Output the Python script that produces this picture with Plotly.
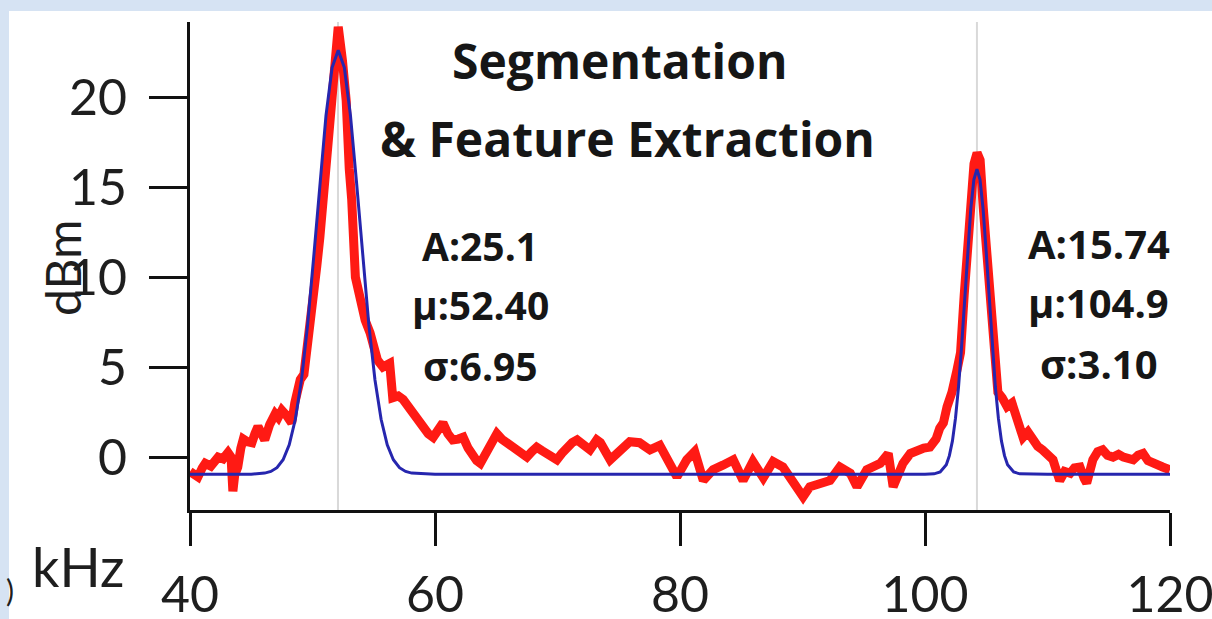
import plotly.graph_objects as go

# ---------------- data ----------------
red_khz = [
    40.0, 40.35, 40.65, 41.0, 41.25, 41.7, 42.0, 42.3, 42.7, 43.1,
    43.35, 43.5, 43.65, 43.9, 44.15, 44.35, 44.7, 45.05, 45.3, 45.55,
    45.85, 46.1, 46.5, 46.95, 47.2, 47.5, 47.9, 48.3, 48.55, 49.0,
    49.3, 49.5, 49.65, 49.95, 50.35, 50.6, 50.85, 51.15, 51.45, 51.75,
    52.1, 52.45, 52.75, 53.0, 53.2, 53.5, 53.9, 54.3, 54.7,
    55.0, 55.3, 55.75, 56.3, 56.55, 57.0, 57.4, 57.8, 58.2, 58.6,
    59.0, 59.45, 59.85, 60.25, 60.65, 61.05, 61.45, 61.9, 62.3, 62.7,
    63.1, 63.4, 63.7, 64.0, 64.25, 64.65, 65.05, 65.45, 65.9, 66.3,
    66.7, 67.1, 67.5, 67.9, 68.3, 68.75, 69.15, 69.55, 69.95, 70.35,
    70.8, 71.2, 71.6, 72.0, 72.4, 72.65, 73.2, 73.5, 74.3, 75.1,
    75.9, 76.7, 77.55, 78.35, 79.2, 79.75, 80.55, 81.2, 81.9, 82.7,
    83.5, 84.35, 85.15, 85.95, 86.8, 87.6, 88.4, 89.2, 89.8, 90.05,
    90.6, 91.45, 92.25, 93.05, 93.9, 94.45, 95.25, 96.35, 97.0, 97.4,
    98.2, 98.8, 99.35, 99.9, 100.4, 100.9, 101.2, 101.5, 101.8, 102.2,
    102.6, 102.9, 103.2, 103.35, 103.67, 104.0, 104.25, 104.5, 104.75, 105.15,
    105.5, 105.75, 105.95, 106.3, 106.7, 107.1, 107.5, 108.0, 108.4, 108.8,
    109.2, 109.6, 110.0, 110.45, 110.8, 111.0, 111.4, 111.85, 112.2, 112.65,
    113.0, 113.2, 113.7, 114.1, 114.5, 114.9, 115.35, 115.8, 116.2, 116.6,
    117.0, 117.4, 117.8, 118.2, 118.6, 119.0, 119.4, 120.0,
]
red_dbm = [
    -0.8, -1.0, -1.1, -0.6, -0.35, -0.5, -0.2, 0.0, -0.1, 0.25,
    0.0, -1.9, -1.0, -0.55, 0.5, 1.0, 0.85, 0.8, 1.3, 1.7,
    1.3, 0.95, 1.8, 2.4, 2.2, 2.6, 2.3, 1.9, 3.0, 4.3,
    4.6, 5.6, 7.2, 8.7, 10.6, 12.2, 14.3, 17.0, 19.8, 22.0,
    23.9, 22.0, 19.8, 16.0, 14.3, 10.0, 8.7, 7.6, 6.9,
    6.0, 5.4, 5.0, 5.2, 3.3, 3.4, 3.2, 2.8, 2.6, 2.0,
    1.7, 1.3, 1.1, 1.5, 1.9, 1.3, 0.95, 1.0, 1.1, 0.5,
    0.0, -0.2, -0.35, 0.0, 0.2, 0.8, 1.3, 1.0, 0.8, 0.6,
    0.4, 0.2, 0.0, 0.3, 0.55, 0.35, 0.2, 0.0, -0.15, 0.2,
    0.55, 0.8, 0.95, 0.7, 0.55, 0.4, 0.95, 0.8, -0.15, 0.4,
    0.85, 0.8, 0.4, 0.65, -0.35, -1.1, -0.15, 0.3, -1.3, -0.7,
    -0.45, -0.15, -1.3, -0.25, -1.15, -0.25, -0.55, -1.3, -2.0, -2.2,
    -1.65, -1.45, -1.3, -0.55, -0.9, -1.65, -0.7, -0.35, 0.2, -1.65,
    -0.35, 0.2, 0.4, 0.5, 0.55, 1.0, 1.6, 1.9, 2.8, 3.6,
    4.8, 5.8, 9.0, 10.2, 13.9, 16.3, 16.9, 16.5, 13.9, 10.2,
    7.5, 5.9, 3.6, 3.3, 2.8, 3.0, 2.2, 1.1, 1.4, 0.95,
    0.6, 0.4, 0.1, -0.15, -0.9, -1.3, -0.8, -0.9, -0.6, -0.55,
    -1.2, -1.45, -0.15, 0.3, 0.4, 0.1, 0.0, 0.15, 0.0, -0.1,
    -0.15, 0.1, 0.2, -0.2, -0.35, -0.4, -0.55, -0.7,
]

fit_khz = [
    40.0, 45.0, 46.1, 46.6, 47.1, 47.6, 48.1, 48.6, 49.1, 49.6,
    50.1, 50.6, 51.1, 51.6, 52.1, 52.6, 53.1, 53.6, 54.1, 54.6,
    55.1, 55.6, 56.1, 56.6, 57.1, 57.6, 58.1, 60.0, 100.0, 100.74,
    101.24, 101.74, 101.99, 102.24, 102.49, 102.74, 102.99, 103.24, 103.49, 103.74,
    103.99, 104.24, 104.49, 104.74, 104.99, 105.24, 105.49, 105.74, 105.99, 106.24,
    106.49, 106.74, 107.24, 107.74, 110.0, 120.0,
]
fit_dbm = [
    -0.95, -0.95, -0.89, -0.80, -0.59, -0.15, 0.68, 2.10, 4.28, 7.34,
    11.13, 15.22, 18.97, 21.64, 22.6, 21.64, 18.97, 15.22, 11.13, 7.34,
    4.28, 2.10, 0.68, -0.15, -0.59, -0.80, -0.89, -0.95, -0.95, -0.93,
    -0.83, -0.42, 0.08, 0.90, 2.16, 3.92, 6.18, 8.79, 11.46, 13.81,
    15.42, 16.0, 15.42, 13.81, 11.46, 8.79, 6.18, 3.92, 2.16, 0.90,
    0.08, -0.42, -0.83, -0.93, -0.95, -0.95,
]

peak_centers = [52.08, 104.24]
x_ticks = [40, 60, 80, 100, 120]
y_ticks = [0, 5, 10, 15, 20]

title_lines = ["Segmentation", "& Feature Extraction"]
peak1_labels = ["A:25.1", "μ:52.40", "σ:6.95"]
peak2_labels = ["A:15.74", "μ:104.9", "σ:3.10"]

# ---------------- figure ----------------
W, H = 1212, 619
ML, MR, MT, MB = 190, 42, 22, 109
PW, PH = W - ML - MR, H - MT - MB

def px_x(px):
    return (px - ML) / PW

def px_y(py):
    return (H - MB - py) / PH

fig = go.Figure()
fig.add_trace(go.Scatter(x=red_khz, y=red_dbm, mode="lines",
                         line=dict(color="#ff1a14", width=9),
                         hoverinfo="skip", showlegend=False))
fig.add_trace(go.Scatter(x=fit_khz, y=fit_dbm, mode="lines",
                         line=dict(color="#2626ae", width=3),
                         hoverinfo="skip", showlegend=False))

shapes = [
    dict(type="rect", xref="paper", yref="paper",
         x0=px_x(9), x1=px_x(W + 5), y0=px_y(H + 5), y1=px_y(11),
         fillcolor="white", line=dict(width=0), layer="below"),
]
for c in peak_centers:
    shapes.append(dict(type="line", xref="x", yref="paper", x0=c, x1=c, y0=0, y1=1,
                       line=dict(color="#d9d9d9", width=2), layer="below"))

bold = dict(family="Open Sans", size=48, color="#161616", weight="bold")
lab = dict(family="Open Sans", size=39, color="#161616", weight="bold")
annotations = [
    dict(x=75.1, y=22.05, text=title_lines[0], font=bold),
    dict(x=75.75, y=17.7, text=title_lines[1], font=bold),
]
for i, yv in enumerate([11.75, 8.5, 5.1]):
    annotations.append(dict(x=63.7, y=yv, text=peak1_labels[i], font=lab))
    annotations.append(dict(x=114.2, y=yv + 0.1, text=peak2_labels[i],
                            font=dict(lab, size=40)))
for a in annotations:
    a.update(xref="x", yref="y", showarrow=False, xanchor="center", yanchor="middle")

axis_font = dict(family="Lato", size=50, color="#1e1e1e")
annotations += [
    dict(xref="paper", yref="paper", x=px_x(62), y=px_y(268), text="dBm",
         textangle=-90, font=dict(family="Lato", size=48, color="#1e1e1e"),
         showarrow=False, xanchor="center", yanchor="middle"),
    dict(xref="paper", yref="paper", x=px_x(78), y=px_y(566), text="kHz",
         font=dict(family="Lato", size=54, color="#1e1e1e"),
         showarrow=False, xanchor="center", yanchor="middle"),
    dict(xref="paper", yref="paper", x=px_x(16), y=px_y(590), text=")",
         font=dict(family="Lato", size=30, color="#1e1e1e"),
         showarrow=False, xanchor="right", yanchor="middle"),
]

fig.update_layout(
    width=W, height=H, autosize=False,
    margin=dict(l=ML, r=MR, t=MT, b=MB, pad=0, autoexpand=False),
    paper_bgcolor="#d6e3f3", plot_bgcolor="rgba(0,0,0,0)",
    shapes=shapes, annotations=annotations, showlegend=False,
    xaxis=dict(range=[40, 120], tickvals=x_ticks, ticks="outside", ticklen=33,
               tickwidth=3, tickcolor="#111", showline=True, linewidth=3,
               linecolor="#111", showgrid=False, zeroline=False, automargin=False,
               tickfont=axis_font, ticklabelstandoff=6, ticklabeloverflow="allow"),
    yaxis=dict(range=[-2.94, 24.17], tickvals=y_ticks, ticks="outside", ticklen=38,
               tickwidth=3, tickcolor="#111", showline=True, linewidth=3,
               linecolor="#111", showgrid=False, zeroline=False, automargin=False,
               tickfont=axis_font, ticklabelstandoff=12, ticklabeloverflow="allow"),
)

fig.write_html("out.html")
